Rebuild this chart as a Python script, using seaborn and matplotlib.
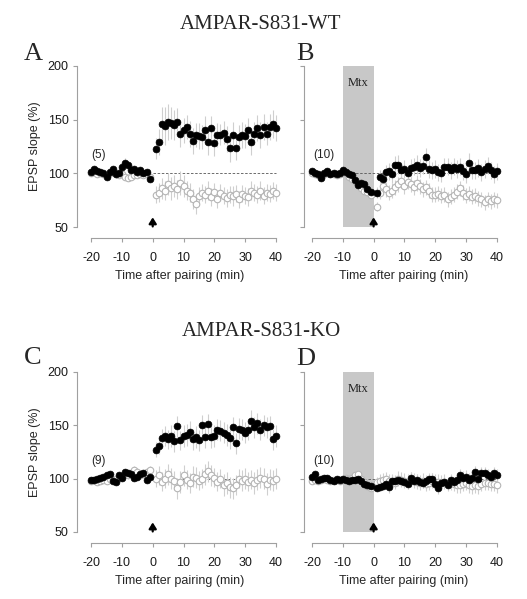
"""
EPSP slope after pairing: AMPAR-S831-WT vs AMPAR-S831-KO,
with and without Mtx. Filled = paired pathway, open = control pathway.
"""
import matplotlib
matplotlib.use("Agg")
import matplotlib.pyplot as plt
import seaborn as sns

sns.set_style("ticks")
plt.rcParams["font.family"] = ["Liberation Sans", "DejaVu Sans"]
plt.rcParams["axes.unicode_minus"] = False

# time points (min): 20 baseline + 40 after pairing
time = list(range(-20, 0)) + list(range(1, 41))

# panel A: WT, no drug
a_paired = [101, 104, 102, 101, 100, 97, 101, 104, 99, 100, 106, 110, 108, 103, 104, 101, 103, 100, 101, 95,
            123, 129, 146, 144, 148, 147, 145, 148, 137, 140, 143, 137, 130, 136, 135, 134, 140, 129, 142, 128,
            136, 136, 138, 132, 124, 136, 124, 134, 136, 135, 140, 129, 137, 142, 136, 143, 137, 143, 146, 142]
a_paired_sem = [2, 2, 3, 2, 3, 3, 2, 3, 3, 2, 3, 4, 3, 3, 3, 2, 3, 3, 2, 3,
                10, 12, 16, 18, 17, 15, 14, 13, 12, 12, 11, 12, 12, 11, 12, 11, 13, 12, 11, 12,
                11, 10, 11, 12, 13, 12, 12, 11, 12, 11, 12, 12, 11, 12, 12, 12, 11, 12, 13, 12]
a_control = [100, 101, 99, 100, 99, 98, 100, 101, 99, 98, 99, 97, 96, 97, 98, 98, 99, 98, 99, 97,
             80, 82, 86, 84, 90, 86, 88, 85, 91, 88, 84, 82, 76, 71, 79, 82, 80, 84, 78, 83,
             76, 82, 79, 77, 80, 79, 81, 76, 81, 79, 78, 84, 82, 80, 84, 79, 82, 81, 84, 82]
a_control_sem = [2, 2, 2, 2, 2, 2, 2, 3, 2, 2, 3, 3, 3, 3, 3, 2, 2, 2, 2, 2,
                 8, 9, 10, 9, 10, 11, 10, 9, 11, 10, 9, 9, 9, 9, 8, 8, 8, 9, 8, 8,
                 8, 8, 8, 8, 8, 9, 8, 8, 8, 8, 8, 9, 8, 8, 9, 8, 8, 8, 8, 8]

# panel B: WT, Mtx from -10 to 0
b_paired = [102, 100, 99, 96, 100, 102, 99, 100, 99, 100, 103, 101, 99, 98, 94, 89, 91, 90, 85, 83,
            82, 97, 95, 101, 102, 99, 108, 108, 103, 104, 100, 105, 106, 108, 105, 107, 115, 104, 103, 104,
            101, 100, 106, 106, 103, 106, 104, 106, 102, 99, 110, 103, 103, 105, 101, 104, 107, 103, 99, 102]
b_paired_sem = [2, 2, 2, 2, 2, 2, 2, 2, 2, 2, 3, 3, 3, 3, 3, 3, 3, 3, 3, 3,
                5, 6, 7, 7, 8, 8, 8, 9, 8, 8, 8, 8, 8, 9, 8, 8, 9, 8, 8, 8,
                8, 8, 8, 8, 8, 8, 8, 8, 8, 8, 9, 8, 8, 8, 8, 8, 8, 8, 8, 8]
b_control = [100, 99, 98, 97, 99, 100, 99, 99, 98, 99, 101, 100, 97, 95, 93, 89, 86, 84, 83, 80,
             69, 82, 88, 85, 82, 84, 87, 90, 93, 88, 92, 90, 87, 91, 88, 85, 87, 84, 80, 80,
             81, 79, 80, 76, 78, 80, 83, 86, 82, 79, 81, 78, 79, 77, 76, 73, 76, 74, 76, 75]
b_control_sem = [2, 2, 2, 2, 2, 2, 2, 2, 2, 2, 2, 2, 2, 2, 2, 2, 2, 2, 2, 2,
                 4, 6, 7, 7, 7, 7, 7, 7, 7, 7, 7, 7, 7, 7, 7, 7, 7, 7, 7, 7,
                 7, 7, 7, 7, 7, 7, 7, 7, 7, 7, 7, 7, 7, 7, 7, 7, 7, 7, 7, 7]

# panel C: KO, no drug
c_paired = [99, 99, 100, 101, 102, 103, 104, 98, 97, 103, 101, 106, 105, 104, 101, 102, 104, 105, 99, 102,
            127, 131, 138, 140, 137, 140, 135, 149, 136, 140, 141, 144, 137, 139, 136, 150, 139, 151, 139, 140,
            146, 145, 143, 141, 138, 148, 133, 147, 146, 143, 146, 154, 148, 152, 146, 150, 148, 149, 137, 140]
c_paired_sem = [2, 2, 2, 2, 2, 2, 2, 2, 2, 2, 2, 3, 3, 3, 2, 2, 3, 3, 2, 3,
                7, 8, 9, 9, 9, 10, 10, 10, 9, 10, 10, 10, 10, 10, 10, 10, 10, 10, 10, 10,
                10, 10, 10, 10, 10, 10, 10, 10, 10, 10, 10, 10, 10, 10, 10, 10, 10, 10, 10, 10]
c_control = [98, 99, 97, 98, 99, 98, 100, 99, 100, 101, 102, 104, 103, 105, 108, 106, 103, 104, 106, 108,
             100, 103, 97, 100, 104, 100, 98, 91, 97, 103, 99, 96, 102, 101, 98, 100, 104, 107, 103, 101,
             97, 100, 94, 96, 92, 91, 94, 100, 98, 100, 97, 99, 96, 99, 101, 100, 95, 99, 98, 100]
c_control_sem = [2, 2, 2, 2, 2, 2, 2, 2, 3, 3, 3, 3, 3, 3, 4, 4, 3, 3, 4, 4,
                 8, 9, 9, 9, 10, 10, 9, 10, 10, 10, 9, 9, 10, 10, 9, 9, 10, 10, 10, 9,
                 9, 9, 10, 10, 10, 10, 9, 9, 10, 10, 9, 9, 10, 10, 10, 10, 10, 10, 10, 10]

# panel D: KO, Mtx from -10 to 0
d_paired = [102, 104, 99, 100, 101, 101, 99, 98, 100, 99, 100, 99, 98, 99, 99, 100, 98, 95, 94, 93,
            91, 92, 93, 95, 92, 98, 98, 99, 98, 97, 95, 101, 98, 99, 97, 96, 98, 100, 100, 95,
            91, 96, 97, 94, 99, 97, 99, 103, 101, 102, 99, 101, 106, 100, 105, 105, 103, 102, 105, 103]
d_paired_sem = [2, 2, 2, 2, 2, 2, 2, 2, 2, 2, 2, 2, 2, 2, 2, 2, 2, 2, 2, 2,
                3, 4, 4, 5, 5, 5, 5, 5, 5, 5, 5, 5, 5, 5, 5, 5, 5, 5, 5, 5,
                5, 5, 5, 5, 5, 5, 6, 6, 6, 6, 6, 6, 6, 6, 6, 6, 6, 6, 6, 6]
d_control = [98, 99, 98, 99, 100, 99, 98, 99, 99, 98, 100, 101, 100, 101, 103, 104, 100, 97, 93, 91,
             97, 98, 99, 100, 98, 98, 96, 100, 99, 98, 97, 99, 98, 97, 96, 98, 95, 96, 98, 97,
             97, 96, 97, 95, 96, 95, 94, 94, 95, 96, 94, 93, 94, 93, 95, 96, 96, 95, 95, 94]
d_control_sem = [2, 2, 2, 2, 2, 2, 2, 2, 2, 2, 2, 2, 2, 2, 2, 2, 2, 2, 2, 2,
                 5, 6, 6, 6, 6, 6, 6, 7, 7, 7, 7, 7, 7, 7, 7, 7, 7, 7, 7, 7,
                 7, 7, 7, 7, 7, 7, 7, 7, 7, 7, 7, 7, 7, 7, 7, 7, 7, 7, 7, 7]

panel_letters = ["A", "B", "C", "D"]
n_cells = ["(5)", "(10)", "(9)", "(10)"]
titles = ["AMPAR-S831-WT", "AMPAR-S831-KO"]

W, H = 527, 599
fig = plt.figure(figsize=(W / 100, H / 100), dpi=100)

# axes boxes in pixels: left, top, right, bottom ; x range left limit
boxes = [
    (77, 66, 282, 227, -24.6),
    (304, 66, 503, 227, -22.6),
    (77, 372, 282, 532, -24.6),
    (304, 372, 503, 532, -22.6),
]
panels = [
    (a_paired, a_paired_sem, a_control, a_control_sem, False),
    (b_paired, b_paired_sem, b_control, b_control_sem, True),
    (c_paired, c_paired_sem, c_control, c_control_sem, False),
    (d_paired, d_paired_sem, d_control, d_control_sem, True),
]
letter_pos = [(24, 60), (296, 60), (24, 364), (296, 365)]
serif = ["Liberation Serif", "DejaVu Serif"]

spine_col = "#a0a0a0"
bar_col = "#cfcfcf"

for i, ((l, t, r, b, x0), (paired, paired_sem, ctrl, ctrl_sem, mtx)) in enumerate(zip(boxes, panels)):
    ax = fig.add_axes([l / W, 1 - b / H, (r - l) / W, (b - t) / H])
    ax.set_xlim(x0, 42)
    ax.set_ylim(50, 200)

    if mtx:
        ax.axvspan(-10, 0, color="#c8c8c8", lw=0, zorder=0)
        ax.text(-5, 184, "Mtx", ha="center", va="center", fontsize=9,
                family=serif, color="#222222")
        ax.plot([-10, 40], [100, 100], ls=(0, (3, 2)), color="#555555", lw=0.6, zorder=1)
    else:
        ax.plot([0, 40], [100, 100], ls=(0, (3, 2)), color="#555555", lw=0.6, zorder=1)

    ax.errorbar(time, ctrl, yerr=ctrl_sem, fmt="none", ecolor=bar_col, elinewidth=0.8, zorder=2)
    ax.errorbar(time, paired, yerr=paired_sem, fmt="none", ecolor=bar_col, elinewidth=0.8, zorder=2)
    sns.scatterplot(x=time, y=ctrl, ax=ax, s=22, color="white", edgecolor="#b5b5b5",
                    linewidth=0.8, zorder=3)
    sns.scatterplot(x=time, y=paired, ax=ax, s=24, color="black", edgecolor="black",
                    linewidth=0.5, zorder=4)

    # pairing arrow
    ax.annotate("", xy=(0, 59), xytext=(0, 50.5),
                arrowprops=dict(arrowstyle="-|>,head_width=0.22,head_length=0.35",
                                color="black", lw=1.6, shrinkA=0, shrinkB=0))

    ax.text(-16.3 if i % 2 else -17.6, 117, n_cells[i], ha="center", va="center", fontsize=8.5)

    ax.set_xticks([-20, -10, 0, 10, 20, 30, 40])
    ax.set_yticks([50, 100, 150, 200])
    if i % 2 == 1:
        ax.set_yticklabels([])
    else:
        ax.set_ylabel("EPSP slope (%)", fontsize=9)
        ax.yaxis.set_label_coords(-0.175, 0.5)
    ax.set_xlabel("Time after pairing (min)", fontsize=9, labelpad=4)
    ax.tick_params(labelsize=9, colors=spine_col, labelcolor="#1a1a1a", length=3, width=0.8, pad=3)
    ax.tick_params(axis="x", pad=7)

    ax.spines["top"].set_visible(False)
    ax.spines["right"].set_visible(False)
    ax.spines["bottom"].set_position(("outward", 8))
    ax.spines["bottom"].set_bounds(-20, 40)
    ax.spines["left"].set_bounds(50, 200)
    for s in ("left", "bottom"):
        ax.spines[s].set_color(spine_col)
        ax.spines[s].set_linewidth(0.8)

    lx, ly = letter_pos[i]
    fig.text(lx / W, 1 - ly / H, panel_letters[i], fontsize=19,
             family=serif, ha="left", va="baseline")

fig.text(261 / W, 1 - 29 / H, titles[0], fontsize=15, family=serif, ha="center", va="baseline")
fig.text(261 / W, 1 - 336 / H, titles[1], fontsize=15, family=serif, ha="center", va="baseline")

fig.savefig("out.png", dpi=100, facecolor="white")
